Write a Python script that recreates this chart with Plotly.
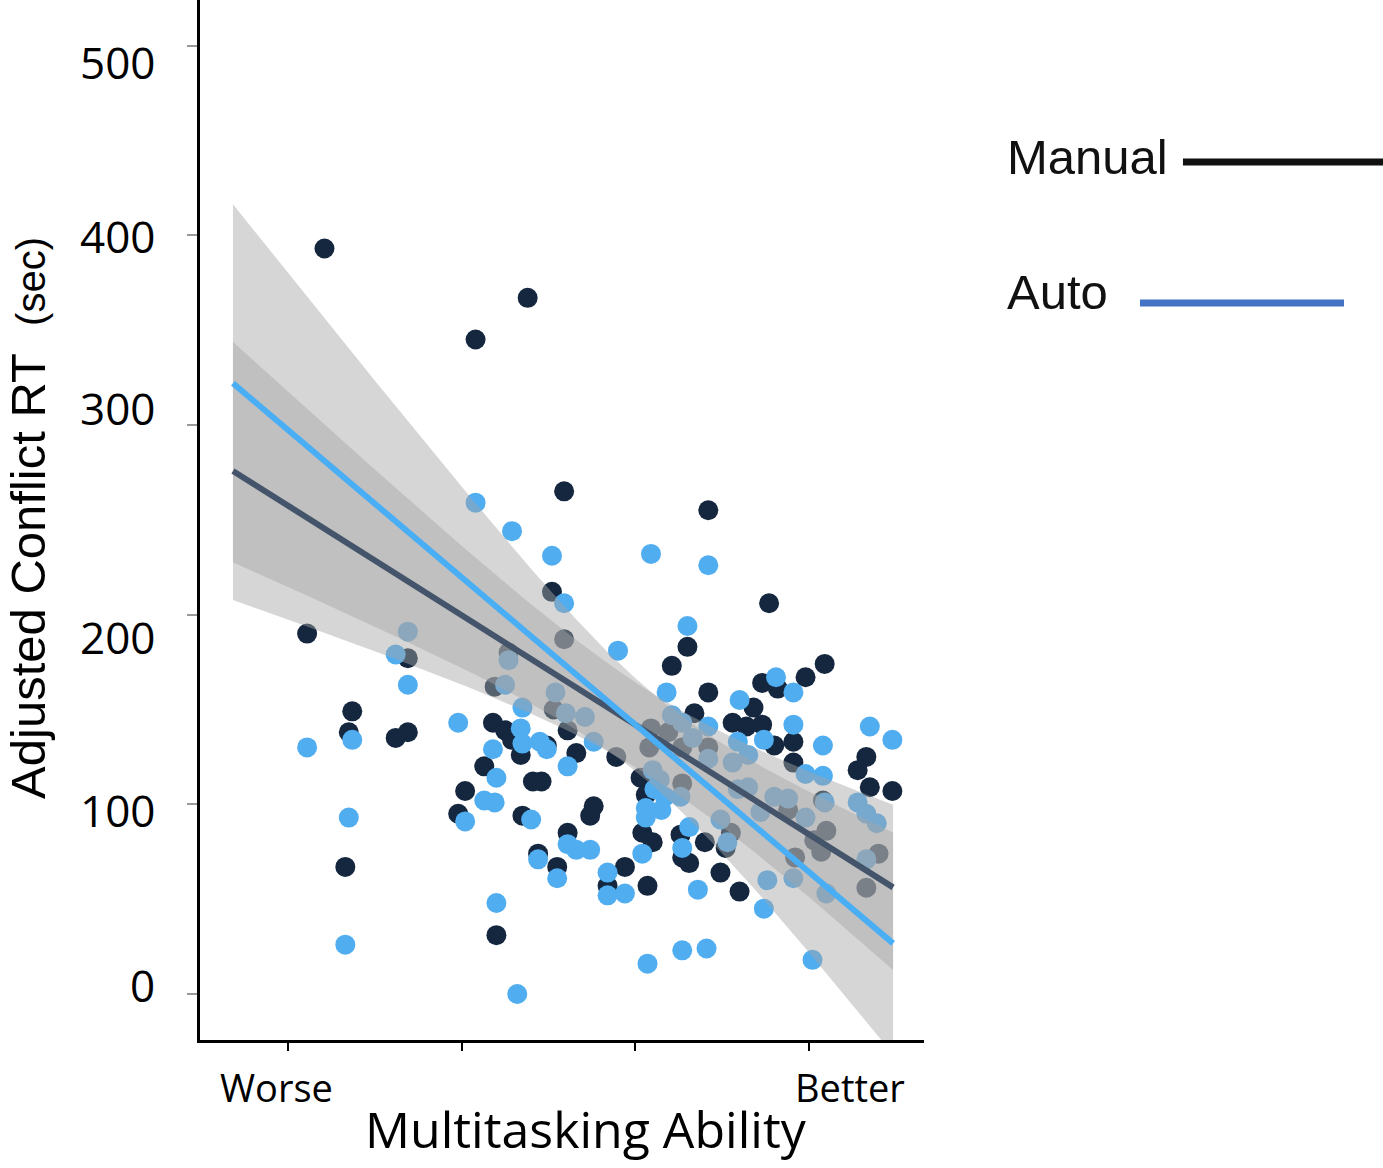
import numpy as np
import plotly.graph_objects as go

# ---- data ----
manual_x = [1.21, 2.38, 2.08, 2.59, 3.42, 3.77, 1.11, 2.52, 2.59, 1.69, 3.30, 3.21, 4.09, 3.98, 3.73,
            3.82, 3.42, 3.68, 2.19, 1.37, 1.35, 1.62, 1.69, 1.33, 2.53, 2.61, 2.89, 3.03, 2.18, 2.25,
            2.29, 2.49, 2.34, 2.66, 2.13, 2.41, 2.46, 2.02, 2.76, 2.74, 2.35, 1.98, 2.61, 2.44, 2.55,
            2.94, 2.84, 3.07, 3.10, 2.20, 3.34, 3.56, 3.64, 3.73, 3.80, 3.09, 3.19, 3.27, 3.42, 3.08,
            3.27, 3.06, 3.04, 3.26, 3.27, 3.31, 3.40, 3.55, 3.52, 3.49, 3.60, 3.92, 3.91, 3.91, 4.33,
            4.28, 4.35, 4.48, 4.08, 3.88, 4.10, 4.03, 4.07, 4.40, 4.33, 2.27]
manual_y = [393, 367, 345, 265, 255, 206, 190, 212, 187, 177, 183, 173, 174, 167, 164,
            161, 159, 151, 162, 149, 138, 135, 138, 67, 150, 139, 125, 114, 143, 139,
            134, 131, 126, 127, 120, 112, 112, 107, 99, 94, 94, 95, 85, 74, 67,
            67, 57, 57, 80, 31, 148, 143, 141, 142, 131, 140, 138, 130, 130, 130,
            111, 105, 85, 84, 72, 69, 80, 85, 77, 64, 54, 72, 133, 122, 125,
            118, 109, 107, 102, 97, 86, 81, 75, 74, 56, 180]

auto_x = [2.08, 2.29, 2.52, 2.59, 2.90, 3.09, 3.42, 3.30, 1.69, 1.62, 1.69, 1.37, 1.11, 1.35, 1.33,
          2.27, 2.25, 2.54, 2.35, 2.60, 2.71, 2.76, 1.98, 2.34, 2.35, 2.45, 2.49, 2.18, 2.61, 2.20,
          2.13, 2.19, 2.40, 2.02, 2.61, 2.66, 2.74, 2.44, 2.55, 2.84, 2.84, 2.94, 3.04, 3.06, 3.06,
          3.15, 2.20, 3.07, 2.32, 3.18, 3.60, 3.81, 3.21, 3.27, 3.42, 3.74, 3.33, 3.59, 3.65, 3.42,
          3.56, 3.10, 3.14, 3.11, 3.17, 3.26, 3.65, 3.59, 3.72, 3.80, 3.31, 3.27, 3.49, 3.53, 3.76,
          3.36, 3.74, 3.27, 3.41, 4.02, 3.91, 3.91, 3.91, 4.08, 3.98, 4.08, 4.35, 4.48, 3.88, 4.09,
          4.28, 4.33, 4.39, 3.98, 4.33, 4.10]
auto_y = [259, 244, 231, 206, 181, 232, 226, 194, 191, 179, 163, 134, 130, 93, 26,
          176, 163, 159, 151, 148, 146, 133, 143, 140, 132, 133, 129, 129, 120, 114,
          102, 101, 92, 91, 79, 76, 76, 71, 61, 64, 52, 53, 74, 98, 93,
          97, 48, 16, 0, 159, 155, 167, 147, 143, 141, 134, 135, 133, 126, 124,
          122, 118, 113, 108, 104, 104, 109, 108, 96, 104, 88, 77, 92, 80, 60,
          55, 45, 23, 24, 18, 61, 159, 142, 131, 116, 115, 141, 134, 103, 101,
          101, 95, 90, 93, 71, 53]

# fitted lines: [intercept at x=0, slope]
manual_fit = [315.2, -57.76]
auto_fit = [375.0, -77.68]
# confidence band: [half-width at centre, growth per x unit, centre x]
manual_ci = [22.25, 26.76, 3.084]
auto_ci = [24.25, 37.99, 3.084]
fit_x_range = [0.683, 4.484]

x_ticks = [1, 2, 3, 4]
y_ticks = [0, 100, 200, 300, 400, 500]
x_end_labels = ["Worse", "Better"]
series_names = ["Manual", "Auto"]

DARK = "#14273f"
BLUE = "#50adf0"
BAND = "rgba(166,166,166,0.46)"

fig = go.Figure()

fig.add_trace(go.Scatter(x=manual_x, y=manual_y, mode="markers",
                         marker=dict(size=20, color=DARK, line=dict(width=0)),
                         showlegend=False, name="Manual"))
fig.add_trace(go.Scatter(x=auto_x, y=auto_y, mode="markers",
                         marker=dict(size=20, color=BLUE, line=dict(width=0)),
                         showlegend=False, name="Auto"))

xs = np.linspace(fit_x_range[0], fit_x_range[1], 120)


def band(fit, ci):
    centre = fit[0] + fit[1] * xs
    h = np.sqrt(ci[0] ** 2 + (ci[1] * (xs - ci[2])) ** 2)
    return centre, centre + h, centre - h


for fit, ci in [(auto_fit, auto_ci), (manual_fit, manual_ci)]:
    c, up, lo = band(fit, ci)
    fig.add_trace(go.Scatter(x=np.concatenate([xs, xs[::-1]]),
                             y=np.concatenate([up, lo[::-1]]),
                             fill="toself", fillcolor=BAND, mode="lines",
                             line=dict(width=0), hoverinfo="skip", showlegend=False))

cm, _, _ = band(manual_fit, manual_ci)
ca, _, _ = band(auto_fit, auto_ci)
fig.add_trace(go.Scatter(x=xs, y=cm, mode="lines", line=dict(color="#44546a", width=6),
                         showlegend=False))
fig.add_trace(go.Scatter(x=xs, y=ca, mode="lines", line=dict(color="#4aaef5", width=6),
                         showlegend=False))

fig.update_layout(
    width=1383, height=1168,
    margin=dict(l=200, r=459, t=0, b=128),
    plot_bgcolor="white", paper_bgcolor="white",
    showlegend=False,
)
fig.update_xaxes(range=[0.4933, 4.662], tickvals=x_ticks, showticklabels=False,
                 ticks="outside", ticklen=8, tickwidth=2, tickcolor="black",
                 showline=True, linecolor="black", linewidth=3,
                 showgrid=False, zeroline=False)
fig.update_yaxes(range=[-24.25, 524.0], tickvals=y_ticks, showticklabels=False,
                 ticks="outside", ticklen=10, tickwidth=2, tickcolor="#9a9a9a",
                 showline=True, linecolor="black", linewidth=3,
                 showgrid=False, zeroline=False)

ann = []
# y tick labels (placed as in the reference)
label_y = [0.0529, 0.2212, 0.3875, 0.6077, 0.7731, 0.9404]
for v, py in zip(y_ticks, label_y):
    ann.append(dict(text=str(v), x=-0.0594, y=py, xref="paper", yref="paper",
                    xanchor="right", yanchor="middle", showarrow=False,
                    font=dict(family="Open Sans", size=44, color="black")))
ann.append(dict(text=x_end_labels[0], x=0.105, y=-0.0452, xref="paper", yref="paper",
                xanchor="center", yanchor="middle", showarrow=False,
                font=dict(family="Open Sans", size=38, color="black")))
ann.append(dict(text=x_end_labels[1], x=0.8978, y=-0.0452, xref="paper", yref="paper",
                xanchor="center", yanchor="middle", showarrow=False,
                font=dict(family="Open Sans", size=38, color="black")))
ann.append(dict(text="Multitasking Ability", x=0.533, y=-0.1205, xref="paper", yref="paper",
                xanchor="center", yanchor="bottom", showarrow=False,
                font=dict(family="Open Sans", size=50, color="black")))
ann.append(dict(text="Adjusted Conflict RT\u00a0\u00a0<span style='font-size:40px'>(sec)</span>",
                x=-0.2376, y=0.502, xref="paper", yref="paper", textangle=-90,
                xanchor="center", yanchor="middle", showarrow=False,
                font=dict(family="Liberation Sans", size=49, color="black")))
# legend texts
ann.append(dict(text=series_names[0], x=1.1119, y=0.849, xref="paper", yref="paper",
                xanchor="left", yanchor="middle", showarrow=False,
                font=dict(family="Liberation Sans", size=49, color="#111111")))
ann.append(dict(text=series_names[1], x=1.1119, y=0.719, xref="paper", yref="paper",
                xanchor="left", yanchor="middle", showarrow=False,
                font=dict(family="Liberation Sans", size=49, color="#111111")))
fig.update_layout(annotations=ann)

fig.add_shape(type="line", xref="paper", yref="paper", x0=1.3577, x1=1.634, y0=0.8442, y1=0.8442,
              line=dict(color="#111111", width=7))
fig.add_shape(type="line", xref="paper", yref="paper", x0=1.2983, x1=1.5801, y0=0.7087, y1=0.7087,
              line=dict(color="#4472c4", width=7))

fig.write_html("out.html")
